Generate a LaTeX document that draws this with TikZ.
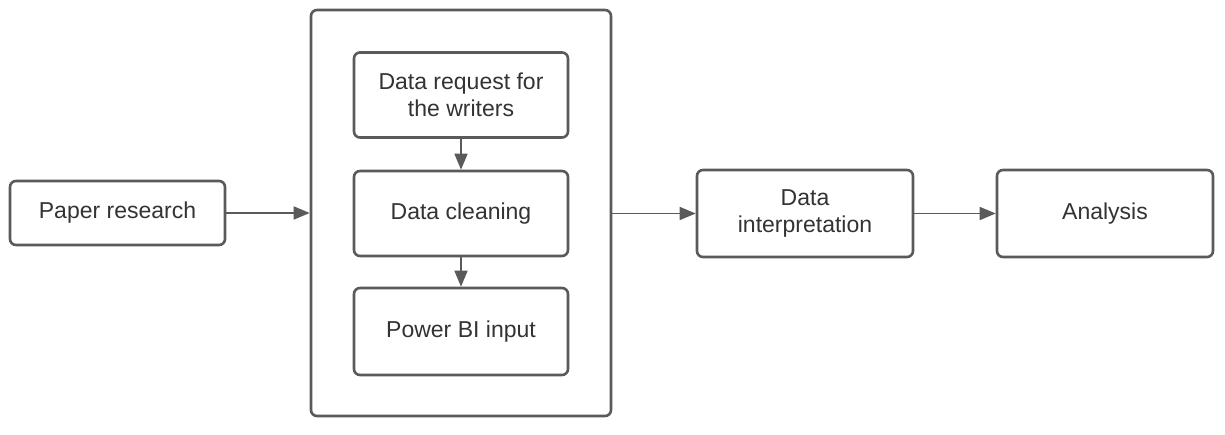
\documentclass[tikz,border=0pt]{standalone}
\usepackage{fontspec}
\setmainfont{Liberation Sans}
\usetikzlibrary{arrows.meta}
\definecolor{linegray}{HTML}{5A5A5A}
\definecolor{textgray}{HTML}{333333}
\tikzset{
  box/.style={draw=linegray, line width=2.6pt, rounded corners=6pt, fill=white,
    align=center, text=textgray, inner sep=0pt,
    font=\fontsize{23}{27.5}\selectfont},
  conn/.style={draw=linegray, line width=1.6pt, -{Triangle[length=16pt,width=13pt]}}
}
\begin{document}
\begin{tikzpicture}[x=1pt,y=-1pt]
\useasboundingbox (0,0) rectangle (1225,435);
\node[box, minimum width=300pt, minimum height=406pt] (big) at (461,213) {};
\node[box, minimum width=215pt, minimum height=64pt] (pr) at (117.5,213) {Paper research};
\node[box, minimum width=214pt, minimum height=85pt] (req) at (461,95) {Data request for\\the writers};
\node[box, minimum width=214pt, minimum height=85pt] (clean) at (461,213.5) {Data cleaning};
\node[box, minimum width=214pt, minimum height=87pt] (pbi) at (461,331.5) {Power BI input};
\node[box, minimum width=216pt, minimum height=87pt] (interp) at (805,213.5) {Data\\interpretation};
\node[box, minimum width=216pt, minimum height=87pt] (ana) at (1105,213.5) {Analysis};
\draw[conn] (pr.east) -- (pr.east -| big.west);
\draw[conn] (big.east |- interp.west) -- (interp.west);
\draw[conn] (interp.east) -- (ana.west);
\draw[conn] (req.south) -- (clean.north);
\draw[conn] (clean.south) -- (pbi.north);
\end{tikzpicture}
\end{document}
